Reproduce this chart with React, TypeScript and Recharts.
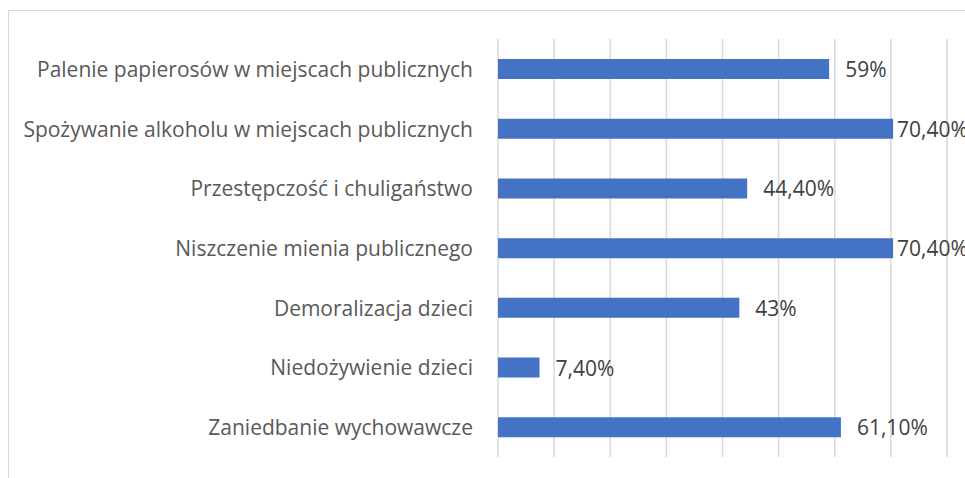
import React from 'react';
import { BarChart, Bar, XAxis, YAxis, CartesianGrid, LabelList } from 'recharts';

const categories = [
  'Palenie papierosów w miejscach publicznych',
  'Spożywanie alkoholu w miejscach publicznych',
  'Przestępczość i chuligaństwo',
  'Niszczenie mienia publicznego',
  'Demoralizacja dzieci',
  'Niedożywienie dzieci',
  'Zaniedbanie wychowawcze',
];
const values = [59, 70.4, 44.4, 70.4, 43, 7.4, 61.1];
const valueLabels = ['59%', '70,40%', '44,40%', '70,40%', '43%', '7,40%', '61,10%'];
const xTicks = [0, 10, 20, 30, 40, 50, 60, 70, 80];

const data = categories.map((c, i) => ({ name: c, value: values[i], label: valueLabels[i] }));

const FONT = '"Open Sans", sans-serif';
const LABEL_MAX_X = 888;

const CategoryTick = (props: any) => {
  const { x, y, payload } = props;
  return (
    <text x={x - 17} y={y} textAnchor="end" dominantBaseline="central" fill="#595959" fontSize={21} fontFamily={FONT}>
      {payload.value}
    </text>
  );
};

const ValueLabel = (props: any) => {
  const { x, y, width, height, index } = props;
  const lx = Math.min(x + width + 16, LABEL_MAX_X);
  return (
    <text x={lx} y={y + height / 2} dominantBaseline="central" fill="#404040" fontSize={21} fontFamily={FONT}>
      {valueLabels[index]}
    </text>
  );
};

export default function App() {
  return (
    <div
      style={{
        position: 'absolute',
        left: 8,
        top: 10,
        width: 956,
        height: 467,
        borderTop: '1px solid #d9d9d9',
        borderLeft: '1px solid #d9d9d9',
        overflow: 'hidden',
        background: '#fff',
      }}
    >
      <BarChart
        width={1000}
        height={467}
        data={data}
        layout="vertical"
        margin={{ top: 28, right: 62, bottom: 21, left: 0 }}
        barCategoryGap={0}
      >
        <CartesianGrid horizontal={false} stroke="#d9d9d9" strokeWidth={1.5} />
        <XAxis type="number" domain={[0, 80]} ticks={xTicks} hide />
        <YAxis
          type="category"
          dataKey="name"
          width={489}
          axisLine={false}
          tickLine={false}
          tick={<CategoryTick />}
          interval={0}
        />
        <Bar dataKey="value" fill="#4472C4" barSize={20} isAnimationActive={false}>
          <LabelList dataKey="label" content={<ValueLabel />} />
        </Bar>
      </BarChart>
    </div>
  );
}
